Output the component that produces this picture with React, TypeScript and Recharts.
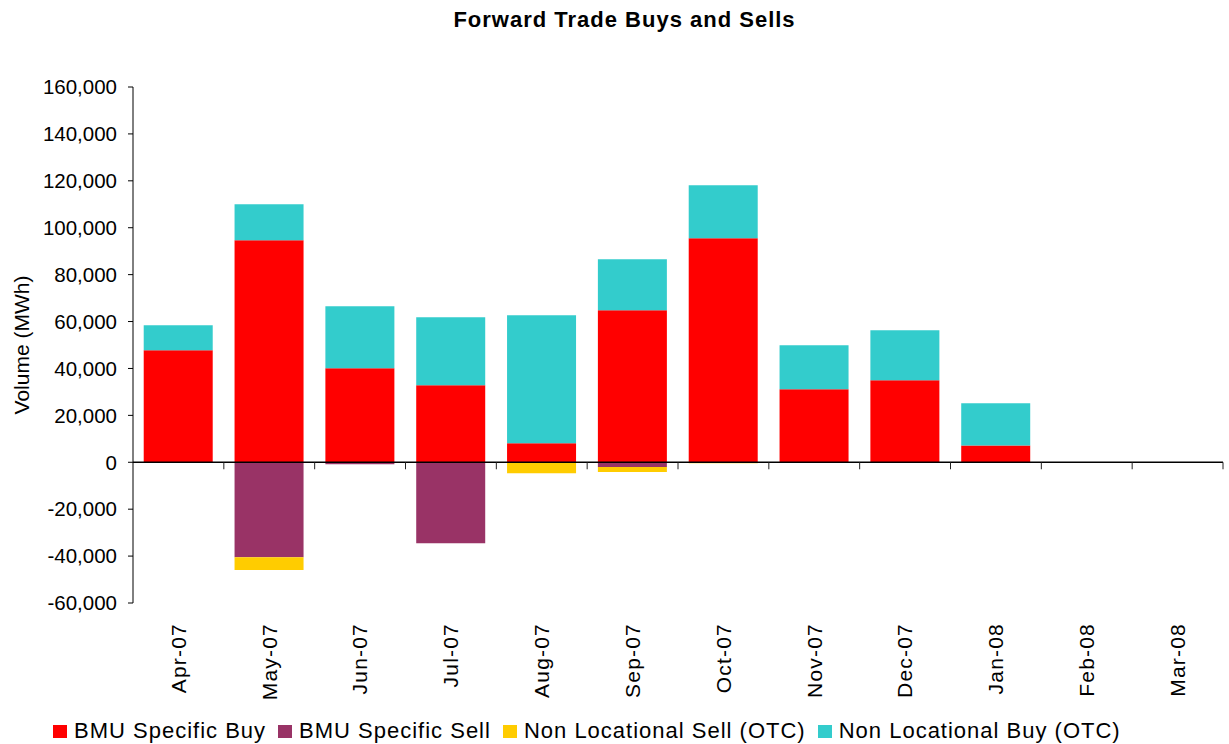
import { BarChart, Bar, XAxis, YAxis, ReferenceLine, Legend } from 'recharts'

// values (MWh)
const MONTHS = ['Apr-07', 'May-07', 'Jun-07', 'Jul-07', 'Aug-07', 'Sep-07', 'Oct-07', 'Nov-07', 'Dec-07', 'Jan-08', 'Feb-08', 'Mar-08']
const BMU_BUY = [47800, 94700, 40100, 32800, 8100, 64800, 95500, 31100, 35000, 7200, 0, 0]
const BMU_SELL = [0, -40500, -800, -34500, 0, -2000, 0, 0, 0, 0, 0, 0]
const NL_SELL = [0, -5400, 0, 0, -4700, -2200, -400, 0, 0, -300, 0, 0]
const NL_BUY = [10600, 15300, 26400, 29000, 54600, 21800, 22600, 18800, 21300, 18000, 0, 0]
const Y_TICKS = [-60000, -40000, -20000, 0, 20000, 40000, 60000, 80000, 100000, 120000, 140000, 160000]

const FONT = '"Liberation Sans", Arial, sans-serif'

const SERIES = [
  { key: 'bmuBuy', name: 'BMU Specific Buy', color: '#FF0000' },
  { key: 'bmuSell', name: 'BMU Specific Sell', color: '#993366' },
  { key: 'nlSell', name: 'Non Locational Sell (OTC)', color: '#FFCC00' },
  { key: 'nlBuy', name: 'Non Locational Buy (OTC)', color: '#33CCCC' },
]

const data = MONTHS.map((month, i) => ({
  month,
  bmuBuy: BMU_BUY[i],
  bmuSell: BMU_SELL[i],
  nlSell: NL_SELL[i],
  nlBuy: NL_BUY[i],
}))

function MonthTick({ x, y, payload }: any) {
  return (
    <text
      x={x}
      y={y + 20}
      dy="0.35em"
      transform={`rotate(-90 ${x} ${y + 20})`}
      textAnchor="end"
      fill="#000"
      style={{ fontFamily: FONT, fontSize: 21, letterSpacing: 1.2 }}
    >
      {payload.value}
    </text>
  )
}

// zero line with Excel style tick marks between categories
function ZeroLine(props: any) {
  const { x1, x2, y1 } = props
  const step = (x2 - x1) / MONTHS.length
  return (
    <g>
      <line x1={x1} x2={x2} y1={y1} y2={y1} stroke="#000" strokeWidth={1.3} />
      {MONTHS.map((_, i) => (
        <line key={i} x1={x1 + step * (i + 1)} x2={x1 + step * (i + 1)} y1={y1} y2={y1 + 7} stroke="#222" strokeWidth={1} />
      ))}
    </g>
  )
}

function YLabel({ viewBox }: any) {
  const cy = viewBox.y + viewBox.height / 2
  return (
    <text
      x={22}
      y={cy}
      dy="0.35em"
      transform={`rotate(-90 22 ${cy})`}
      textAnchor="middle"
      fill="#000"
      style={{ fontFamily: FONT, fontSize: 21 }}
    >
      Volume (MWh)
    </text>
  )
}

// legend keeps the series order (recharts would re-sort it)
function LegendContent() {
  return (
    <div style={{ display: 'flex', alignItems: 'center', fontFamily: FONT, fontSize: 22, letterSpacing: 1, lineHeight: 1, whiteSpace: 'nowrap' }}>
      {SERIES.map((s) => (
        <div key={s.key} style={{ display: 'flex', alignItems: 'center', marginRight: 12 }}>
          <span style={{ width: 14, height: 13, background: s.color, marginRight: 7, display: 'inline-block' }} />
          <span>{s.name}</span>
        </div>
      ))}
    </div>
  )
}

export default function App() {
  return (
    <div style={{ position: 'absolute', left: 0, top: 0, width: 1229, height: 744, background: '#fff', fontFamily: FONT }}>
      <div
        style={{
          position: 'absolute', left: 0, top: 9, width: 1249, textAlign: 'center',
          fontSize: 22, fontWeight: 'bold', letterSpacing: 1, lineHeight: 1, color: '#000',
        }}
      >
        Forward Trade Buys and Sells
      </div>
      <BarChart
        width={1229}
        height={744}
        data={data}
        stackOffset="sign"
        barCategoryGap="11.8%"
        margin={{ top: 87, right: 6, bottom: 0, left: 0 }}
      >
        <XAxis
          dataKey="month"
          interval={0}
          axisLine={false}
          tickLine={false}
          tickSize={0}
          tickMargin={0}
          height={141}
          tick={<MonthTick />}
        />
        <YAxis
          width={133}
          domain={[-60000, 160000]}
          ticks={Y_TICKS}
          interval={0}
          allowDataOverflow
          axisLine={{ stroke: '#000' }}
          tickLine={{ stroke: '#000' }}
          tickSize={5}
          tickMargin={11}
          tick={{ fill: '#000', fontSize: 20.5, fontFamily: FONT }}
          tickFormatter={(v: number) => v.toLocaleString('en-US')}
          label={<YLabel />}
        />
        {SERIES.map((s) => (
          <Bar key={s.key} dataKey={s.key} name={s.name} stackId="a" fill={s.color} isAnimationActive={false} />
        ))}
        <ReferenceLine y={0} shape={<ZeroLine />} />
        <Legend
          verticalAlign="middle"
          align="center"
          layout="horizontal"
          content={<LegendContent />}
          wrapperStyle={{ top: 720, left: 53, width: 'auto' }}
        />
      </BarChart>
    </div>
  )
}
